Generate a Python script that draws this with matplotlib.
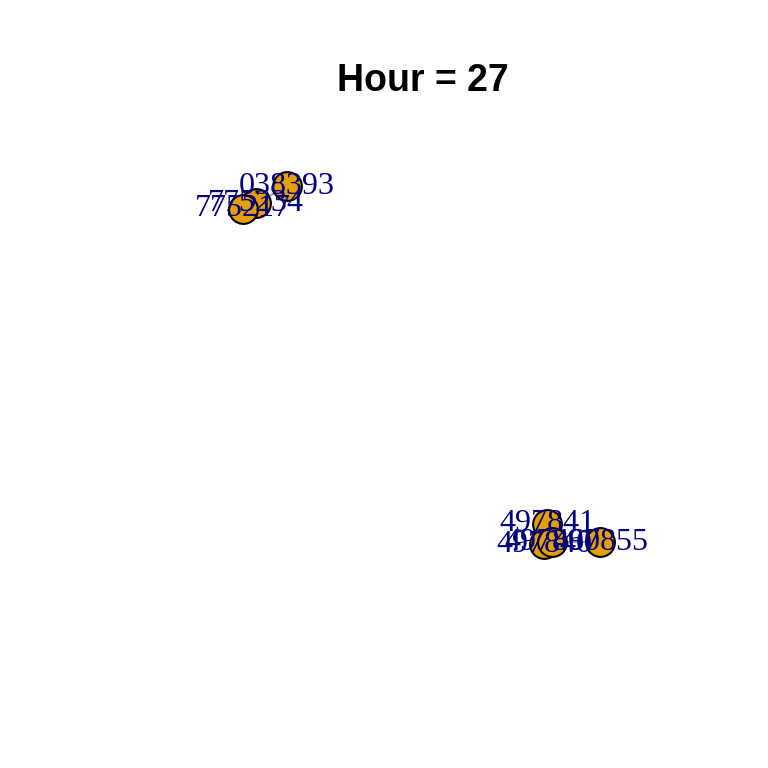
import matplotlib
matplotlib.use("Agg")
import matplotlib.pyplot as plt

# node layout (rescaled igraph-style coordinates)
labels = ["038393", "775234", "775217", "497841", "497840", "497860", "497855"]
xs = [-0.753, -0.927, -1.0, 0.703, 0.686, 0.731, 1.0]
ys = [1.0, 0.905, 0.872, -0.888, -1.0, -0.989, -0.989]
edges = [(0, 1), (1, 2), (3, 4), (4, 5), (5, 6)]
title = "Hour = 27"

fig = plt.figure(figsize=(7.68, 7.68), dpi=100)
ax = fig.add_axes([0, 0, 1, 1])
ax.set_xlim(-2.361, 1.941)
ax.set_ylim(-2.251, 2.039)
ax.axis("off")

for a, b in edges:
    ax.plot([xs[a], xs[b]], [ys[a], ys[b]], color="#A0A0A0", lw=1.5, zorder=1)

ax.scatter(xs, ys, s=430, color="#E69F00", edgecolor="black", linewidth=1.5, zorder=2)

for x, y, t in zip(xs, ys, labels):
    ax.text(x, y, t, color="#000080", fontsize=23, family="Liberation Serif",
            ha="center", va="center", zorder=3)

fig.text(423 / 768, 1 - 81 / 768, title, ha="center", va="center",
         fontsize=27, fontweight="bold", family="Liberation Sans")

fig.savefig("out.png", dpi=100)
